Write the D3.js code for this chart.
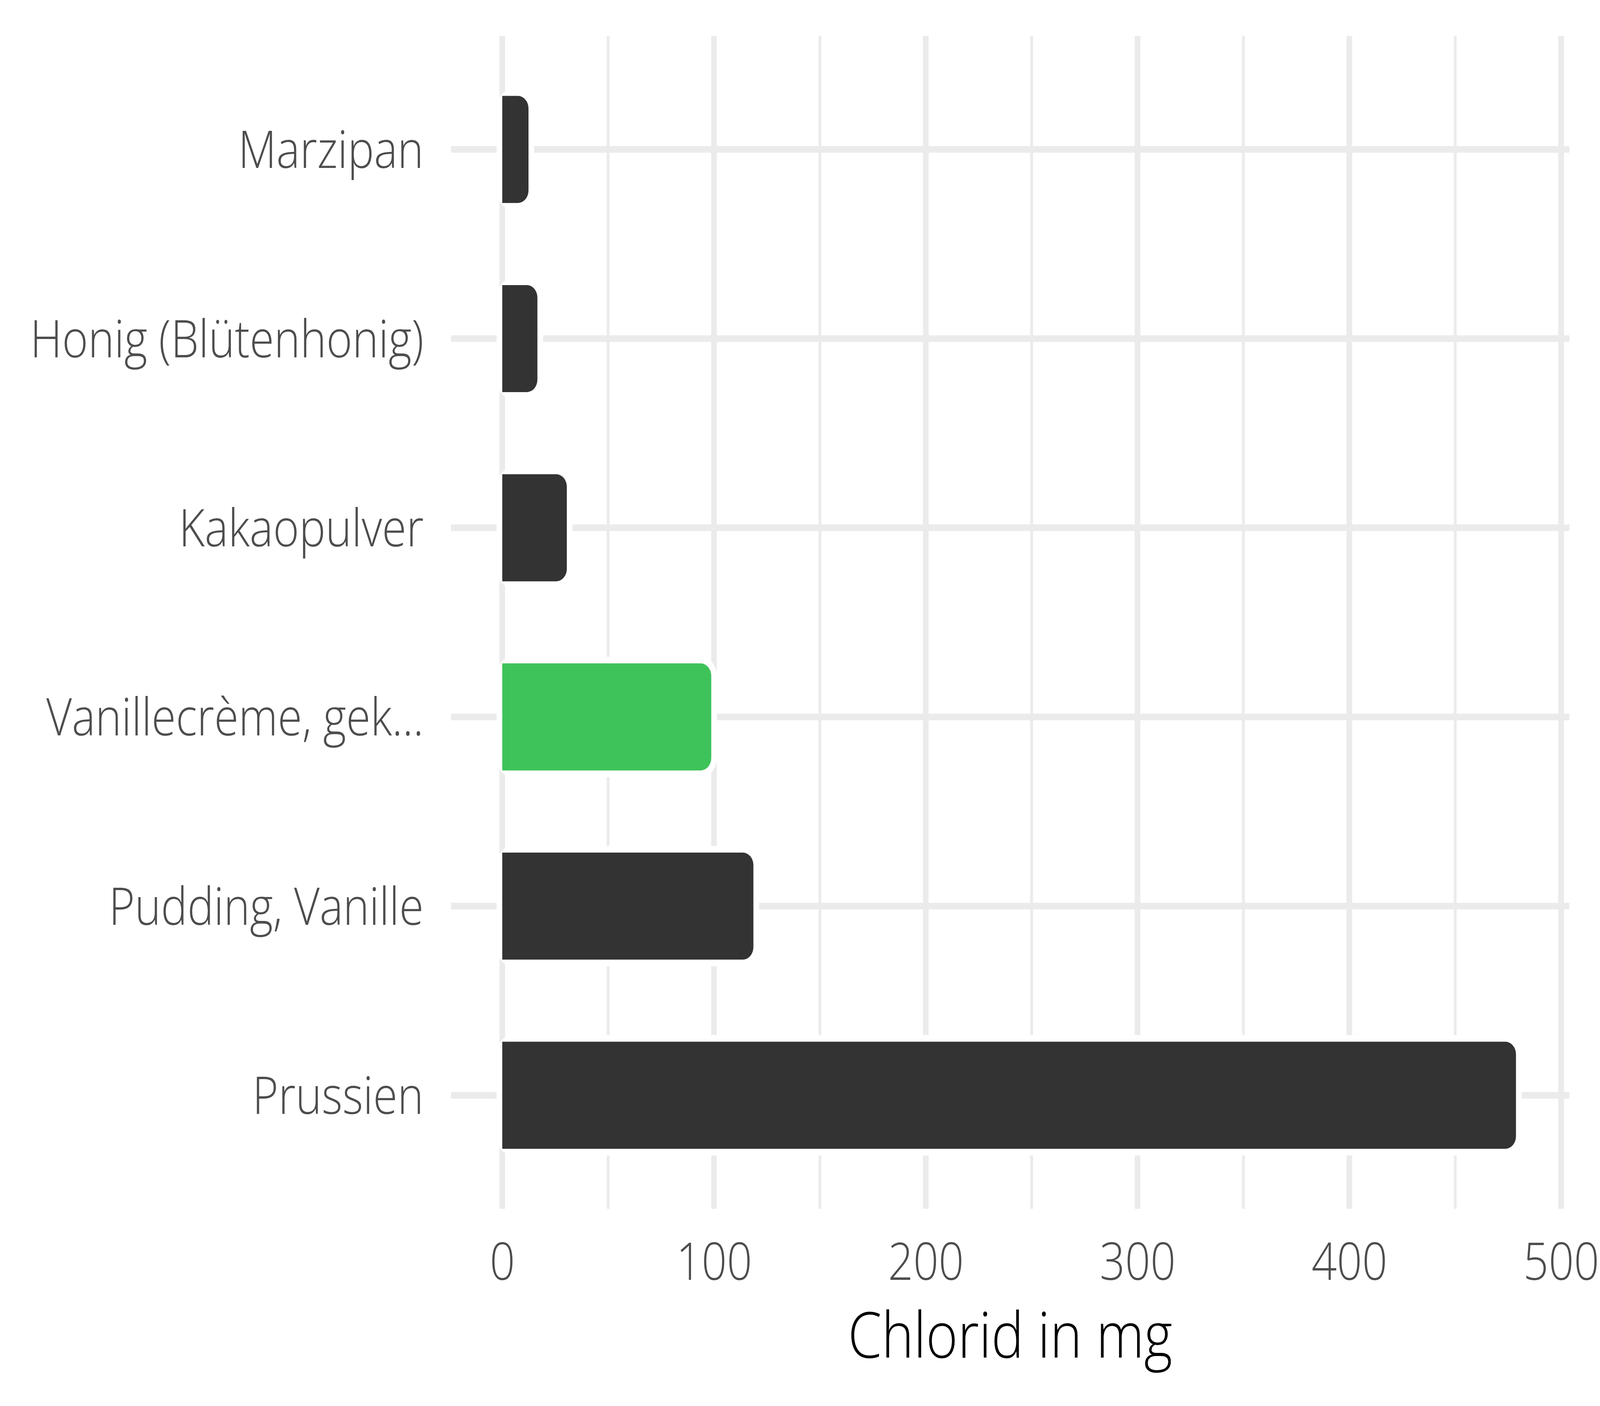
<!DOCTYPE html>
<html>
<head>
<meta charset="utf-8">
<script src="https://d3js.org/d3.v7.min.js"></script>
<style>
  html, body { margin: 0; padding: 0; background: #ffffff; width: 100%; height: 100%; overflow: hidden; }
  #chart { width: 100%; height: 100%; }
  #chart svg { display: block; }
</style>
</head>
<body>
<div id="chart"></div>
<script>
var categories = ['Marzipan', 'Honig (Blütenhonig)', 'Kakaopulver', 'Vanillecrème, gek...', 'Pudding, Vanille', 'Prussien'];
var values = [12.4, 16.6, 30.5, 98.7, 118.6, 478.7];
var highlight = [false, false, false, true, false, false];
var majorTicks = [0, 100, 200, 300, 400, 500];
var minorTicks = [50, 150, 250, 350, 450];
var axisTitle = 'Chlorid in mg';

var width = 4800, height = 3600;
var panel = { left: 1353, right: 4708, top: 92, bottom: 3095 };
var font = 'Open Sans';

// the window may be narrower than 4800, so stretch the 4800x3600 layout onto it
var svg = d3.select('#chart').append('svg')
  .attr('width', '100%').attr('height', '100%')
  .attr('viewBox', '0 0 ' + width + ' ' + height)
  .attr('preserveAspectRatio', 'none');

svg.append('rect').attr('width', width).attr('height', height).attr('fill', '#ffffff');

var x = d3.scaleLinear().domain([-24.2, 503.9]).range([panel.left, panel.right]);
var y = d3.scalePoint().domain(categories).range([panel.top, panel.bottom]).padding(0.6);
var step = y.step();
var barH = step * 0.566;
var outline = 17;
var radius = 32;

// grid
var grid = svg.append('g');
grid.selectAll('.minor').data(minorTicks).enter().append('line')
  .attr('x1', function(d) { return x(d); }).attr('x2', function(d) { return x(d); })
  .attr('y1', panel.top).attr('y2', panel.bottom)
  .attr('stroke', '#ebebeb').attr('stroke-width', 8.5);
grid.selectAll('.major').data(majorTicks).enter().append('line')
  .attr('x1', function(d) { return x(d); }).attr('x2', function(d) { return x(d); })
  .attr('y1', panel.top).attr('y2', panel.bottom)
  .attr('stroke', '#ebebeb').attr('stroke-width', 17);
grid.selectAll('.hline').data(categories).enter().append('line')
  .attr('x1', panel.left).attr('x2', panel.right)
  .attr('y1', function(d) { return y(d); }).attr('y2', function(d) { return y(d); })
  .attr('stroke', '#ebebeb').attr('stroke-width', 17);

var barPath = function(x0, x1, cy, h, r) {
  var top = cy - h / 2, bot = cy + h / 2;
  r = Math.min(r, (x1 - x0) / 2, h / 2);
  return 'M' + x0 + ',' + top +
    'H' + (x1 - r) +
    'A' + r + ',' + r + ' 0 0 1 ' + x1 + ',' + (top + r) +
    'V' + (bot - r) +
    'A' + r + ',' + r + ' 0 0 1 ' + (x1 - r) + ',' + bot +
    'H' + x0 + 'Z';
};

var data = categories.map(function(c, i) {
  return { name: c, value: values[i], hl: highlight[i] };
});

var bars = svg.append('g');
bars.selectAll('.halo').data(data).enter().append('rect')
  .attr('x', x(0) - outline)
  .attr('y', function(d) { return y(d.name) - barH / 2 - outline; })
  .attr('width', function(d) { return x(d.value) - x(0) + 2 * outline; })
  .attr('height', barH + 2 * outline)
  .attr('rx', radius + outline).attr('ry', radius + outline)
  .attr('fill', '#ffffff');
bars.selectAll('.bar').data(data).enter().append('path')
  .attr('d', function(d) { return barPath(x(0), x(d.value), y(d.name), barH, radius); })
  .attr('fill', function(d) { return d.hl ? '#3ec35a' : '#333333'; });

// axes
var xAxis = svg.append('g')
  .attr('transform', 'translate(0,' + panel.bottom + ')')
  .call(d3.axisBottom(x).tickValues(majorTicks).tickSize(0).tickPadding(88).tickFormat(d3.format('d')));
var yAxis = svg.append('g')
  .attr('transform', 'translate(' + panel.left + ',0)')
  .call(d3.axisLeft(y).tickSize(0).tickPadding(82));
svg.selectAll('.domain').remove();
svg.selectAll('.tick text')
  .attr('font-family', font).attr('font-weight', 300)
  .attr('font-size', 133).attr('fill', '#4d4d4d');
yAxis.selectAll('.tick text').attr('dy', '0.355em');

svg.append('text')
  .attr('x', (panel.left + panel.right) / 2).attr('y', 3476)
  .attr('text-anchor', 'middle')
  .attr('font-family', font).attr('font-weight', 300).attr('font-size', 163)
  .attr('fill', '#000000')
  .text(axisTitle);
</script>
</body>
</html>
